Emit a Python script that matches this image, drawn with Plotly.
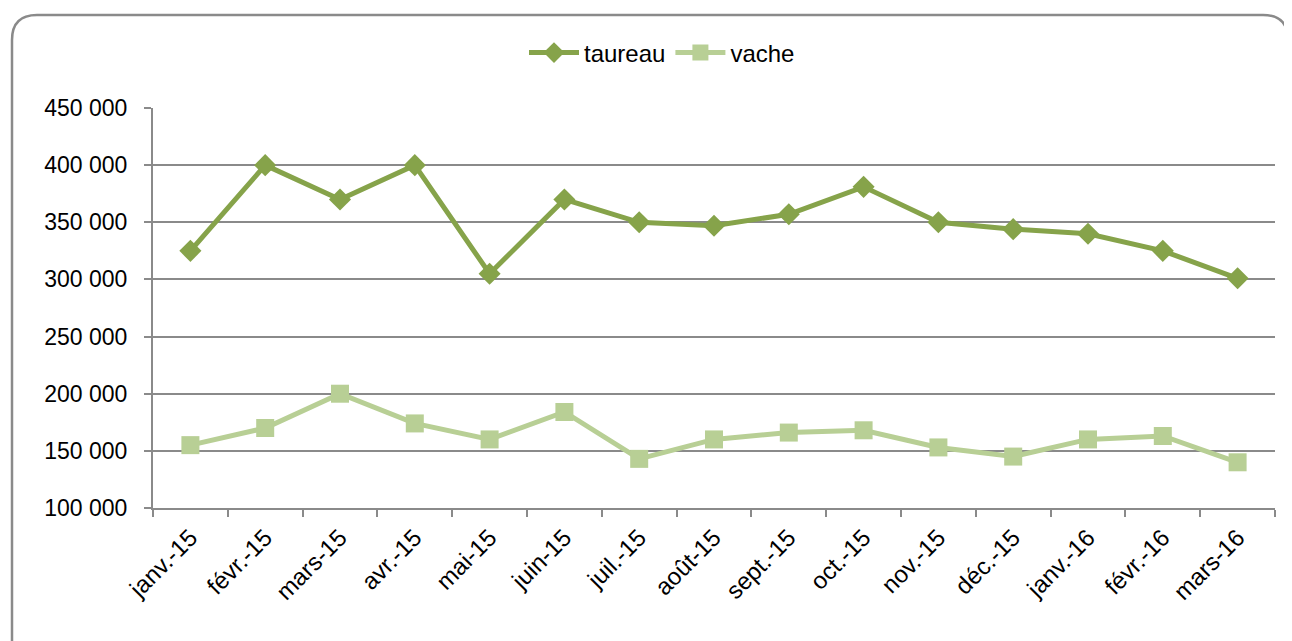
import plotly.graph_objects as go

months = ["janv.-15", "févr.-15", "mars-15", "avr.-15", "mai-15", "juin-15", "juil.-15",
          "août-15", "sept.-15", "oct.-15", "nov.-15", "déc.-15", "janv.-16", "févr.-16", "mars-16"]
taureau = [325000, 400000, 370000, 400000, 305000, 370000, 350000, 347000, 357000, 381000,
           350000, 344000, 340000, 325000, 301000]
vache = [155000, 170000, 200000, 174000, 160000, 184000, 143000, 160000, 166000, 168000,
         153000, 145000, 160000, 163000, 140000]

OFF = 8  # page body margin
W, H = 1292 - OFF, 641 - OFF
L, T = 153 - OFF, 108 - OFF
R = W - (1275 - OFF)
B = H - (508 - OFF)
PW, PH = W - L - R, H - T - B

def px(x):
    return (x - OFF - L) / PW

def py(y):
    return (H - B - (y - OFF)) / PH

FONT = "Liberation Sans, Arial, sans-serif"
C1 = "#86a34a"
C2 = "#b8cf95"
GRID = "#8a8a8a"

fig = go.Figure()
fig.add_trace(go.Scatter(x=months, y=taureau, name="taureau", mode="lines+markers",
                         line=dict(color=C1, width=5),
                         marker=dict(symbol="diamond", size=17, color=C1)))
fig.add_trace(go.Scatter(x=months, y=vache, name="vache", mode="lines+markers",
                         line=dict(color=C2, width=5),
                         marker=dict(symbol="square", size=18, color=C2)))

# rounded frame
x0, y0, x1, y1 = px(12), py(15), px(1288), py(680)
rx, ry = 25 / PW, 25 / PH
path = (f"M {x0},{y1} L {x0},{y0 - ry} Q {x0},{y0} {x0 + rx},{y0} "
        f"L {x1 - rx},{y0} Q {x1},{y0} {x1},{y0 - ry} L {x1},{y1}")
fig.add_shape(type="path", path=path, xref="paper", yref="paper",
              line=dict(color="#8a8a8a", width=2.5), layer="below")

fig.update_layout(
    width=W, height=H,
    margin=dict(l=L, r=R, t=T, b=B, autoexpand=False),
    paper_bgcolor="white", plot_bgcolor="white",
    separators=", ",
    font=dict(family=FONT, size=22, color="black"),
    showlegend=True,
    legend=dict(orientation="h", x=px(662), xanchor="center", y=py(53), yanchor="middle",
                font=dict(size=24), itemwidth=50, tracegroupgap=0),
    xaxis=dict(type="category", range=[-0.5, 14.5], showline=True, linecolor=GRID, linewidth=2,
               ticks="outside", tickson="boundaries", ticklen=7, tickcolor=GRID, tickwidth=1.5,
               tickangle=-45, tickfont=dict(size=24), showgrid=False, ticklabelstandoff=4),
    yaxis=dict(range=[100000, 450000], dtick=50000, tickformat=",d", showline=True,
               linecolor=GRID, linewidth=2, ticks="outside", ticklen=7, tickcolor=GRID,
               tickwidth=1.5, gridcolor=GRID, gridwidth=1.5, tickfont=dict(size=23),
               zeroline=False, ticklabelstandoff=12),
)

fig.write_html("out.html")
